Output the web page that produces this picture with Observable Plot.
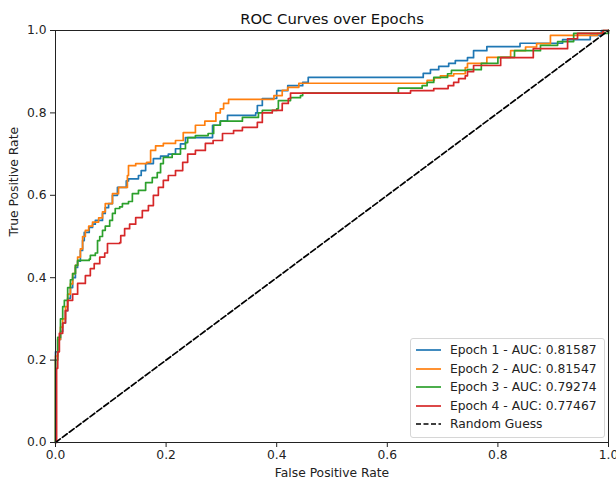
<!DOCTYPE html>
<html><head><meta charset="utf-8">
<script src="https://cdn.jsdelivr.net/npm/d3@7"></script>
<script src="https://cdn.jsdelivr.net/npm/@observablehq/plot@0.6"></script>
<style>
body{margin:0;background:#fff;overflow:hidden;font-family:"DejaVu Sans",sans-serif;}
#wrap{position:relative;width:616px;height:481px;}
#legend{position:absolute;left:410px;top:338px;width:193px;padding:2px 0 3px 0;border:1px solid #d6d6d6;border-radius:3px;background:rgba(255,255,255,0.85);font-size:12.3px;color:#222;}
#legend .row{display:flex;align-items:center;height:18.5px;padding-left:5px;white-space:nowrap;}
#legend svg{margin-right:9px;flex:none;}
</style></head><body><div id="wrap"></div>
<script>
const title = "ROC Curves over Epochs";
const xLabel = "False Positive Rate";
const yLabel = "True Positive Rate";
const ticks = [0, 0.2, 0.4, 0.6, 0.8, 1.0];
const epochNames = ["Epoch 1", "Epoch 2", "Epoch 3", "Epoch 4"];
const aucValues = ["0.81587", "0.81547", "0.79274", "0.77467"];
const colors = ["#1f77b4", "#ff7f0e", "#2ca02c", "#d62728"];
const randomLabel = "Random Guess";
const diagonal = [[0, 0], [1, 1]];

// [fpr, tpr] : at fpr, tpr rises to the given value (step-after)
const epoch1 = [[0,0],[0,0.22],[0.004,0.25],[0.009,0.27],[0.013,0.29],[0.018,0.32],[0.022,0.35],[0.027,0.376],[0.031,0.40],[0.036,0.425],[0.04,0.44],[0.045,0.466],[0.049,0.49],[0.052,0.51],[0.061,0.522],[0.067,0.53],[0.072,0.539],[0.085,0.556],[0.09,0.57],[0.096,0.58],[0.103,0.60],[0.112,0.619],[0.128,0.635],[0.132,0.64],[0.15,0.648],[0.155,0.66],[0.163,0.677],[0.177,0.689],[0.19,0.695],[0.204,0.70],[0.217,0.713],[0.226,0.725],[0.235,0.74],[0.284,0.77],[0.298,0.78],[0.311,0.794],[0.362,0.80],[0.365,0.818],[0.374,0.835],[0.40,0.854],[0.42,0.866],[0.447,0.874],[0.457,0.886],[0.665,0.896],[0.678,0.905],[0.693,0.913],[0.711,0.92],[0.723,0.927],[0.745,0.934],[0.756,0.951],[0.78,0.961],[0.84,0.969],[0.917,0.978],[0.967,0.988],[0.987,1.0],[1,1]];
const epoch2 = [[0,0],[0,0.21],[0.004,0.25],[0.009,0.28],[0.013,0.30],[0.018,0.33],[0.022,0.36],[0.027,0.385],[0.031,0.41],[0.036,0.43],[0.04,0.45],[0.045,0.47],[0.049,0.50],[0.054,0.515],[0.06,0.525],[0.067,0.535],[0.078,0.545],[0.085,0.56],[0.09,0.58],[0.103,0.604],[0.114,0.619],[0.13,0.648],[0.132,0.672],[0.145,0.677],[0.165,0.68],[0.172,0.709],[0.181,0.72],[0.195,0.726],[0.217,0.733],[0.231,0.752],[0.253,0.77],[0.27,0.78],[0.29,0.80],[0.298,0.81],[0.304,0.823],[0.313,0.833],[0.395,0.842],[0.41,0.855],[0.42,0.862],[0.44,0.872],[0.672,0.879],[0.685,0.885],[0.696,0.89],[0.72,0.895],[0.741,0.91],[0.745,0.92],[0.78,0.935],[0.823,0.951],[0.85,0.96],[0.87,0.968],[0.895,0.988],[0.98,0.993],[0.99,1],[1,1]];
const epoch3 = [[0,0],[0,0.2],[0.004,0.255],[0.009,0.30],[0.013,0.33],[0.016,0.345],[0.022,0.376],[0.027,0.395],[0.031,0.41],[0.036,0.43],[0.04,0.442],[0.061,0.445],[0.063,0.454],[0.072,0.46],[0.076,0.49],[0.08,0.50],[0.085,0.515],[0.09,0.525],[0.098,0.539],[0.103,0.556],[0.108,0.568],[0.116,0.572],[0.121,0.58],[0.132,0.585],[0.139,0.604],[0.15,0.612],[0.163,0.631],[0.175,0.643],[0.184,0.655],[0.19,0.677],[0.195,0.692],[0.211,0.70],[0.226,0.713],[0.235,0.728],[0.239,0.74],[0.253,0.745],[0.276,0.75],[0.286,0.77],[0.298,0.78],[0.338,0.789],[0.367,0.80],[0.374,0.806],[0.40,0.81],[0.403,0.83],[0.425,0.837],[0.443,0.842],[0.447,0.848],[0.62,0.86],[0.663,0.866],[0.672,0.874],[0.684,0.886],[0.709,0.895],[0.716,0.903],[0.745,0.905],[0.77,0.92],[0.80,0.935],[0.83,0.951],[0.877,0.964],[0.908,0.973],[0.937,0.993],[1,1]];
const epoch4 = [[0,0],[0.002,0.18],[0.004,0.22],[0.007,0.265],[0.013,0.29],[0.018,0.32],[0.022,0.345],[0.031,0.36],[0.04,0.386],[0.054,0.405],[0.063,0.422],[0.07,0.434],[0.08,0.45],[0.089,0.46],[0.094,0.483],[0.116,0.485],[0.118,0.502],[0.125,0.519],[0.134,0.53],[0.145,0.546],[0.157,0.563],[0.168,0.575],[0.177,0.60],[0.186,0.619],[0.195,0.636],[0.204,0.648],[0.217,0.66],[0.23,0.68],[0.239,0.70],[0.253,0.709],[0.271,0.726],[0.285,0.733],[0.302,0.75],[0.322,0.757],[0.338,0.765],[0.365,0.777],[0.374,0.80],[0.392,0.806],[0.41,0.823],[0.421,0.835],[0.425,0.848],[0.642,0.854],[0.684,0.859],[0.71,0.866],[0.72,0.874],[0.729,0.883],[0.741,0.89],[0.745,0.90],[0.756,0.915],[0.805,0.934],[0.864,0.956],[0.926,0.98],[0.944,0.993],[0.99,1],[1,1]];
const series = [epoch1, epoch2, epoch3, epoch4];

const lineOpts = (i) => ({x: d => d[0], y: d => d[1], stroke: colors[i], strokeWidth: 1.7, curve: "step-after"});

const chart = Plot.plot({
  width: 616, height: 481,
  marginLeft: 55, marginRight: 8, marginTop: 30, marginBottom: 39,
  style: {fontFamily: "DejaVu Sans, sans-serif", fontSize: "12.3px", color: "#222", background: "#fff", overflow: "visible"},
  x: {domain: [0, 1]},
  y: {domain: [0, 1]},
  marks: [
    ...series.map((s, i) => Plot.line(s, lineOpts(i))),
    Plot.line(diagonal, {x: d => d[0], y: d => d[1], stroke: "black", strokeWidth: 1.7, strokeDasharray: "6,2.6"}),
    Plot.frame({stroke: "#222", strokeWidth: 1}),
    Plot.axisX({ticks, tickFormat: d3.format(".1f"), tickSize: 5, tickPadding: 3, label: null, fontSize: 12.3}),
    Plot.axisY({ticks, tickFormat: d3.format(".1f"), tickSize: 5, tickPadding: 4, label: null, fontSize: 12.3}),
    Plot.text([xLabel], {frameAnchor: "bottom", dy: 34, fontSize: 12.3, fill: "#222"}),
    Plot.text([yLabel], {frameAnchor: "left", dx: -41, rotate: -90, fontSize: 12.3, fill: "#222"}),
    Plot.text([title], {frameAnchor: "top", dy: -17, fontSize: 14.8, fill: "#111"})
  ]
});
const wrap = document.getElementById("wrap");
wrap.appendChild(chart);

const legend = document.createElement("div");
legend.id = "legend";
const rows = epochNames.map((n, i) => ({label: `${n} - AUC: ${aucValues[i]}`, color: colors[i], dash: null}));
rows.push({label: randomLabel, color: "black", dash: "5,2.5"});
for (const r of rows) {
  const row = document.createElement("div");
  row.className = "row";
  row.innerHTML = `<svg width="25" height="6"><line x1="0" x2="25" y1="3" y2="3" stroke="${r.color}" stroke-width="1.7" ${r.dash ? `stroke-dasharray="${r.dash}"` : ""}/></svg><span></span>`;
  row.querySelector("span").textContent = r.label;
  legend.appendChild(row);
}
wrap.appendChild(legend);
</script>
</body></html>
